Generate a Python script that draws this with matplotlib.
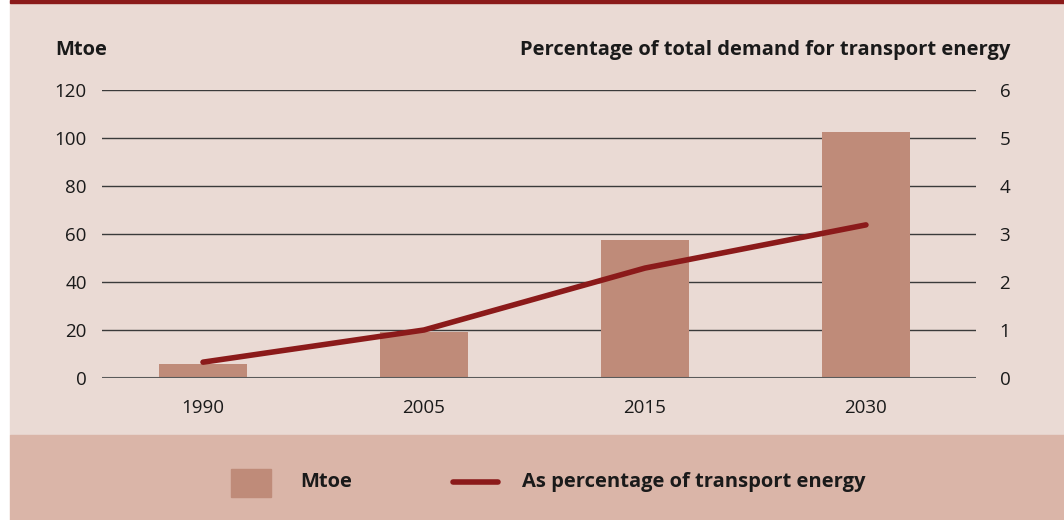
import matplotlib
matplotlib.use('Agg')
import matplotlib.pyplot as plt
from matplotlib.patches import Rectangle
from matplotlib.lines import Line2D

years = ['1990', '2005', '2015', '2030']
mtoe = [6, 19, 57.5, 102.5]
pct_transport = [0.33, 1.0, 2.29, 3.19]
left_ticks = [0, 20, 40, 60, 80, 100, 120]
right_ticks = [0, 1, 2, 3, 4, 5, 6]

plt.rcParams['font.family'] = ['Open Sans', 'DejaVu Sans']

W, H = 1064, 520
fig = plt.figure(figsize=(W / 100, H / 100), dpi=100)
fig.patch.set_facecolor('white')

# background panels
fig.patches.append(Rectangle((10 / W, (H - 435) / H), (W - 10) / W, 435 / H,
                             transform=fig.transFigure, color='#eadad4', zorder=-3))
fig.patches.append(Rectangle((10 / W, 0), (W - 10) / W, (H - 435) / H,
                             transform=fig.transFigure, color='#dab5a8', zorder=-3))
fig.patches.append(Rectangle((10 / W, (H - 3) / H), (W - 10) / W, 3 / H,
                             transform=fig.transFigure, color='#8b1a1a', zorder=-2))

ax = fig.add_axes([102 / W, (H - 378) / H, (976 - 102) / W, (378 - 90) / H])
ax.set_zorder(2)
ax.set_facecolor('none')
x = list(range(len(years)))
ax.bar(x, mtoe, width=0.40, color='#bf8b79', zorder=2)
ax.axhline(0, color='#5a5a5a', linewidth=1.5, zorder=3)
ax.set_ylim(0, 120)
ax.set_xlim(-0.457, 3.498)
ax.set_yticks(left_ticks)
ax.yaxis.grid(True, color='#3a3a3a', linewidth=1.0)
ax.set_axisbelow(True)
ax.set_xticks(x)
ax.set_xticklabels(years)
ax.tick_params(axis='both', length=0, labelsize=13.5, colors='#1a1a1a')
ax.tick_params(axis='x', pad=15)
ax.tick_params(axis='y', pad=11)
for s in ax.spines.values():
    s.set_visible(False)

ax2 = ax.twinx()
ax2.set_zorder(3)
ax2.set_facecolor('none')
ax2.plot(x, pct_transport, color='#8b1a1a', linewidth=4, solid_capstyle='round', zorder=3)
ax2.set_ylim(0, 6)
ax2.set_yticks(right_ticks)
ax2.tick_params(axis='y', length=0, labelsize=13.5, colors='#1a1a1a', pad=17)
for s in ax2.spines.values():
    s.set_visible(False)

fig.text(55 / W, (H - 50) / H, 'Mtoe', fontsize=14.5, fontweight='bold',
         ha='left', va='center', color='#1a1a1a')
fig.text(1010 / W, (H - 50) / H, 'Percentage of total demand for transport energy',
         fontsize=14.5, fontweight='bold', ha='right', va='center', color='#1a1a1a')

# legend
fig.patches.append(Rectangle((231 / W, (H - 497) / H), 40 / W, 28 / H,
                             transform=fig.transFigure, color='#bf8b79', zorder=2))
fig.text(300 / W, (H - 482) / H, 'Mtoe', fontsize=14.5, fontweight='bold',
         ha='left', va='center', color='#1a1a1a')
fig.lines.append(Line2D([453 / W, 498 / W], [(H - 482) / H, (H - 482) / H],
                        transform=fig.transFigure, color='#8b1a1a', linewidth=4,
                        solid_capstyle='round'))
fig.text(522 / W, (H - 482) / H, 'As percentage of transport energy', fontsize=14.5,
         fontweight='bold', ha='left', va='center', color='#1a1a1a')

fig.savefig('out.png', dpi=100)
